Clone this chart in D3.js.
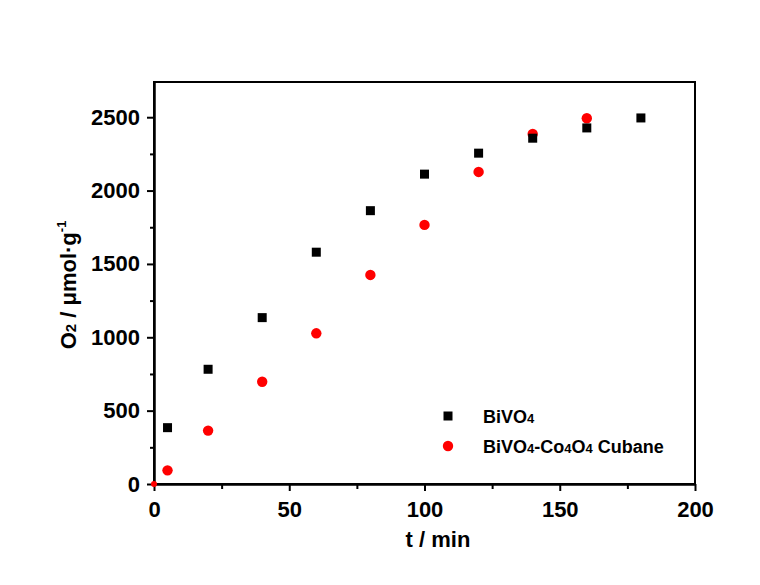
<!DOCTYPE html>
<html>
<head>
<meta charset="utf-8">
<script src="https://cdn.jsdelivr.net/npm/d3@7"></script>
<style>
  body { margin: 0; background: #fff; }
  text { font-family: "Liberation Sans", Arial, sans-serif; font-weight: bold; fill: #000; }
</style>
</head>
<body>
<div class="svg-container"></div>
<script>
var width = 760;
var height = 585;
var margin = {top: 82, right: 65, bottom: 101, left: 154};

// t / min
var timeBiVO4 = [5, 20, 40, 60, 80, 100, 120, 140, 160, 180];
var o2BiVO4 = [384, 782, 1134, 1580, 1863, 2112, 2255, 2357, 2427, 2495];
var timeCubane = [0, 5, 20, 40, 60, 80, 100, 120, 140, 160];
var o2Cubane = [0, 93, 364, 697, 1027, 1425, 1766, 2127, 2386, 2493];

var xTicks = [0, 50, 100, 150, 200];
var xMinor = [25, 75, 125, 175];
var yTicks = [0, 500, 1000, 1500, 2000, 2500];
var yMinor = [250, 750, 1250, 1750, 2250];

var bivo4 = timeBiVO4.map(function(t, i) { return {t: t, o2: o2BiVO4[i]}; });
var cubane = timeCubane.map(function(t, i) { return {t: t, o2: o2Cubane[i]}; });

var svgCanvas = d3.select(".svg-container").append("svg")
    .attr("width", width)
    .attr("height", height)
    .style("background-color", "#ffffff");

var x = d3.scaleLinear().domain([0, 200]).range([margin.left, width - margin.right]);
var y = d3.scaleLinear().domain([0, 2740]).range([height - margin.bottom, margin.top]);

// frame
svgCanvas.append("rect")
    .attr("x", x(0)).attr("y", y(2740))
    .attr("width", x(200) - x(0)).attr("height", y(0) - y(2740))
    .style("fill", "none").style("stroke", "#000").style("stroke-width", 2);

// axes
svgCanvas.append("g")
    .attr("transform", "translate(0," + y(0) + ")")
    .call(d3.axisBottom(x).tickValues(xTicks).tickFormat(d3.format("d"))
          .tickSize(7).tickPadding(10).tickSizeOuter(0));
svgCanvas.append("g")
    .attr("transform", "translate(0," + y(0) + ")")
    .call(d3.axisBottom(x).tickValues(xMinor).tickSize(5).tickFormat("").tickSizeOuter(0));

svgCanvas.append("g")
    .attr("transform", "translate(" + x(0) + ",0)")
    .call(d3.axisLeft(y).tickValues(yTicks).tickFormat(d3.format("d"))
          .tickSize(7).tickPadding(7).tickSizeOuter(0));
svgCanvas.append("g")
    .attr("transform", "translate(" + x(0) + ",0)")
    .call(d3.axisLeft(y).tickValues(yMinor).tickSize(4).tickFormat("").tickSizeOuter(0));

svgCanvas.selectAll(".domain").style("stroke", "#000").style("stroke-width", 2);
svgCanvas.selectAll(".tick line").style("stroke", "#000").style("stroke-width", 2);
svgCanvas.selectAll(".tick text")
    .style("font-family", "'Liberation Sans', Arial, sans-serif")
    .style("font-weight", "bold")
    .style("font-size", "22px");

// axis titles
svgCanvas.append("text")
    .attr("x", 438).attr("y", 547)
    .attr("text-anchor", "middle")
    .style("font-size", "22px")
    .text("t / min");

var yTitle = svgCanvas.append("text")
    .attr("transform", "translate(76," + 285 + ") rotate(-90)")
    .attr("text-anchor", "middle")
    .style("font-size", "22px");
yTitle.append("tspan").text("O");
yTitle.append("tspan").style("font-size", "15px").text("2");
yTitle.append("tspan").text(" / \u03bcmol\u00b7g");
yTitle.append("tspan").attr("dy", -10).style("font-size", "13px").text("-1");

// points
var plot = svgCanvas.append("g");

plot.selectAll("circle.cubane")
    .data(cubane)
    .enter()
    .append("circle")
    .attr("class", "cubane")
    .attr("cx", function(d) { return x(d.t); })
    .attr("cy", function(d) { return y(d.o2); })
    .attr("r", function(d) { return d.t == 0 ? 3 : 5.2; })
    .style("fill", "#ff0000");

plot.selectAll("rect.bivo4")
    .data(bivo4)
    .enter()
    .append("rect")
    .attr("class", "bivo4")
    .attr("x", function(d) { return x(d.t) - 4.5; })
    .attr("y", function(d) { return y(d.o2) - 4.5; })
    .attr("width", 9)
    .attr("height", 9)
    .style("fill", "#000");

// legend
var legend = svgCanvas.append("g");
legend.append("rect")
    .attr("x", 443.5).attr("y", 411.5).attr("width", 9).attr("height", 9)
    .style("fill", "#000");
legend.append("circle")
    .attr("cx", 448).attr("cy", 446).attr("r", 5.2)
    .style("fill", "#ff0000");

var l1 = legend.append("text").attr("x", 483).attr("y", 423).style("font-size", "18px");
l1.append("tspan").text("BiVO");
l1.append("tspan").style("font-size", "13px").text("4");

var l2 = legend.append("text").attr("x", 483).attr("y", 453).style("font-size", "18px");
l2.append("tspan").text("BiVO");
l2.append("tspan").style("font-size", "13px").text("4");
l2.append("tspan").text("-Co");
l2.append("tspan").style("font-size", "13px").text("4");
l2.append("tspan").text("O");
l2.append("tspan").style("font-size", "13px").text("4");
l2.append("tspan").text(" Cubane");
</script>
</body>
</html>
